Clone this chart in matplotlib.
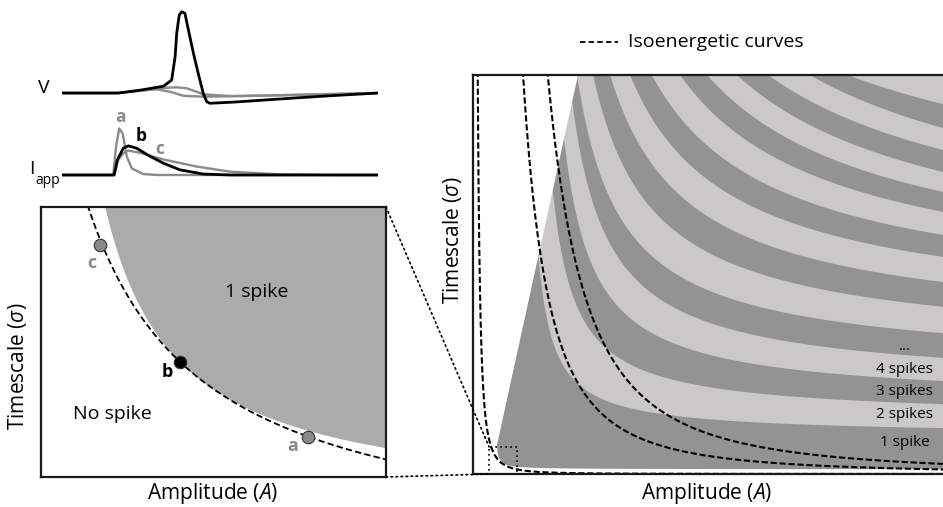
import numpy as np
import matplotlib.pyplot as plt
from matplotlib.patches import ConnectionPatch, Rectangle, Polygon

plt.rcParams['font.family'] = ['Open Sans', 'DejaVu Sans']
plt.rcParams['mathtext.fontset'] = 'custom'
plt.rcParams['mathtext.rm'] = 'Open Sans'
plt.rcParams['mathtext.it'] = 'Open Sans:italic'

# ---------------- example traces (time in a.u.) ----------------
t_v_spike = [0, 17.8, 25, 32.1, 34.7, 35.8, 36.3, 37.1, 37.9, 38.9, 40.0, 41.6,
             43.1, 44.7, 45.8, 46.8, 55, 63.7, 75, 84.8, 100]
v_spike = [-65, -65, -61.5, -57, -49.8, -22.4, 5, 26.4, 30.3, 28.4, 8.9, -18.5,
           -41.9, -65.4, -75.2, -77, -75.5, -73.3, -70.5, -68.2, -65]
t_v_sub1 = [0, 17.8, 26.8, 32, 36.3, 39.5, 42.6, 44.7, 53.2, 74.3, 100]
v_sub1 = [-65, -65, -61.5, -59, -58.3, -59.5, -63.5, -66.5, -68.5, -67.3, -65]
t_v_sub2 = [0, 17.8, 26.8, 30, 34.2, 38.4, 44.7, 58.4, 80, 100]
v_sub2 = [-65, -65, -61.5, -60.7, -63.5, -68.2, -69.3, -68.5, -66.5, -65]

t_i_a = [0, 16.2, 17.1, 18.1, 19.2, 20.5, 22.1, 25.7, 30, 100]
i_a = [0, 0, 0.6, 0.99, 0.88, 0.39, 0.14, 0.02, 0, 0]
t_i_b = [0, 16.5, 17.5, 19.4, 21, 23.6, 27.8, 32.1, 37.3, 44.7, 53.2, 100]
i_b = [0, 0, 0.32, 0.57, 0.62, 0.57, 0.40, 0.25, 0.11, 0.02, 0, 0]
t_i_c = [0, 16.5, 17.8, 19.4, 21, 24.7, 32.1, 42.6, 53.2, 69, 84.8, 100]
i_c = [0, 0, 0.32, 0.46, 0.52, 0.47, 0.33, 0.18, 0.07, 0.015, 0, 0]

# ---------------- zoomed panel (normalised units) ----------------
thr_x0, thr_y0, thr_k = -0.02, -0.119, 0.2305     # 1-spike threshold hyperbola
iso_x0, iso_y0, iso_k = -0.2, -0.3, 0.438         # isoenergetic curve through b
pt_names = ['a', 'b', 'c']
pt_x = [0.774, 0.403, 0.172]
pt_y = [0.147, 0.426, 0.860]
pt_colors = ['#8a8a8a', '#000000', '#8a8a8a']

# ---------------- full panel (normalised units) ----------------
curve_A0 = 0.036
# band boundaries: height where each meets the right edge, amplitude where it meets the top
edge_S = [0.115, 0.175, 0.233, 0.291, 0.353, 0.419, 0.481, 0.544, 0.599,
          0.657, 0.707, 0.757, 0.812, 0.867, 0.927]
top_A = [0.121, 0.152, 0.180, 0.203, 0.220, 0.254, 0.290, 0.332, 0.378,
         0.438, 0.495, 0.558, 0.624, 0.712, 0.793]
curve_p = np.linspace(0.7, 0.45, len(edge_S))      # roundness of each boundary
thr_pts = [(0.994, 0.012), (0.0507, 0.0677)]       # 1-spike threshold
diag_pts = [(0.0507, 0.0727), (0.222, 1.0)]         # left limit of spiking region
iso_E = [1.0e-4, 0.0112, 0.025]                     # sigma = E / A^2
zoom_box = (0.034, 0.0, 0.059, 0.068)
spike_labels = ['...', '4 spikes', '3 spikes', '2 spikes', '1 spike']
spike_label_S = [0.320, 0.263, 0.208, 0.150, 0.078]

dark = '#939393'
light = '#cbc8c8'


def fx(x):
    return x / 943


def fy(y):
    return 1 - y / 507


fig = plt.figure(figsize=(9.43, 5.07), dpi=100)

# traces
axV = fig.add_axes([fx(62), fy(110), 316 / 943, 105 / 507])
axV.plot(t_v_sub1, v_sub1, color='#8a8a8a', lw=1.7)
axV.plot(t_v_sub2, v_sub2, color='#8a8a8a', lw=1.7)
axV.plot(t_v_spike, v_spike, color='black', lw=2.0)
axV.set_xlim(0, 100)
axV.set_ylim(-84.9, 38.2)
axV.axis('off')

axI = fig.add_axes([fx(62), fy(185), 316 / 943, 65 / 507])
axI.plot(t_i_a, i_a, color='#8a8a8a', lw=1.7)
axI.plot(t_i_c, i_c, color='#8a8a8a', lw=1.7)
axI.plot(t_i_b, i_b, color='black', lw=2.0)
axI.set_xlim(0, 100)
axI.set_ylim(-0.213, 1.17)
axI.axis('off')

fig.text(fx(44), fy(88), 'V', fontsize=14, ha='center', va='center')
fig.text(fx(32), fy(169), 'I', fontsize=14, ha='center', va='center')
fig.text(fx(48), fy(181), 'app', fontsize=10, ha='center', va='center')
fig.text(fx(121), fy(117), 'a', fontsize=12.5, fontweight='bold', color='#8a8a8a', ha='center', va='center')
fig.text(fx(141), fy(136), 'b', fontsize=12.5, fontweight='bold', color='black', ha='center', va='center')
fig.text(fx(160), fy(149), 'c', fontsize=12.5, fontweight='bold', color='#8a8a8a', ha='center', va='center')

# zoomed panel
axL = fig.add_axes([fx(41), fy(477), 345 / 943, 270 / 507])
xs = np.linspace(0, 1, 600)
thr = thr_k / (xs - thr_x0) + thr_y0
iso = iso_k / (xs - iso_x0) + iso_y0
axL.fill_between(xs, thr, 3, color='#ababab', lw=0)
axL.plot(xs, iso, color='black', lw=1.3, ls=(0, (3.5, 1.8)))
for n, x, y, c in zip(pt_names, pt_x, pt_y, pt_colors):
    axL.plot(x, y, 'o', ms=9, mfc=c, mec='#333333', mew=0.8, zorder=5)
axL.set_xlim(0, 1)
axL.set_ylim(0, 1)
axL.set_xticks([])
axL.set_yticks([])
for s in axL.spines.values():
    s.set_linewidth(1.6)
    s.set_color('#1a1a1a')
fig.text(fx(257), fy(292), '1 spike', fontsize=14, ha='center', va='center')
fig.text(fx(112), fy(414), 'No spike', fontsize=14, ha='center', va='center')
fig.text(fx(92), fy(263), 'c', fontsize=13, fontweight='bold', color='#8a8a8a', ha='center', va='center')
fig.text(fx(167), fy(372), 'b', fontsize=13, fontweight='bold', color='black', ha='center', va='center')
fig.text(fx(293), fy(446), 'a', fontsize=13, fontweight='bold', color='#8a8a8a', ha='center', va='center')
fig.text(fx(213), fy(493), 'Amplitude ($A$)', fontsize=15, ha='center', va='center')
fig.text(fx(18), fy(366), r'Timescale ($\sigma$)', fontsize=15, ha='center', va='center', rotation=90)

# full panel
axR = fig.add_axes([fx(473), fy(474), 473 / 943, 399 / 507])
A = np.linspace(0, 1.05, 5000)


def boundary(p1, p2, p):
    (x1, y1), (x2, y2) = p1, p2
    M = np.array([[(x1 - curve_A0) ** -p, y1 ** -p],
                  [(x2 - curve_A0) ** -p, y2 ** -p]])
    ca, cb = np.linalg.solve(M, [1.0, 1.0])
    X = np.maximum(A - curve_A0, 1e-9)
    r = 1 - ca / X ** p
    S = np.where(r > 0, (cb / np.maximum(r, 1e-12)) ** (1 / p), 5.0)
    return np.minimum(S, 5.0)


bounds = [boundary(*thr_pts, 0.7)]
for s, a, p in zip(edge_S, top_A, curve_p):
    bounds.append(boundary((0.994, s), (a, 1.0), p))
for i, S in enumerate(bounds):
    axR.fill_between(A, S, 5, color=dark if i % 2 == 0 else light, lw=0)

(da1, ds1), (da2, ds2) = diag_pts
slope = (da2 - da1) / (ds2 - ds1)
mask = [(-0.1, -0.1), (da1 + slope * (-0.1 - ds1), -0.1),
        (da1 + slope * (1.1 - ds1), 1.1), (-0.1, 1.1)]
axR.add_patch(Polygon(mask, closed=True, color='white', lw=0, zorder=2))

Ai = np.linspace(0.003, 1.05, 3000)
for E in iso_E:
    axR.plot(Ai, E / Ai ** 2, color='black', lw=1.5, ls=(0, (3, 1.3)), zorder=3)

zx, zy, zw, zh = zoom_box
axR.add_patch(Rectangle((zx, zy), zw, zh, fill=False, ls=(0, (1, 2)), lw=1.2,
                        color='black', zorder=4))
for lab, s in zip(spike_labels, spike_label_S):
    axR.text(0.912, s, lab, fontsize=11, ha='center', va='center', zorder=5)
axR.set_xlim(0, 1)
axR.set_ylim(0, 1)
axR.set_xticks([])
axR.set_yticks([])
for s in axR.spines.values():
    s.set_linewidth(1.6)
    s.set_color('#1a1a1a')
    s.set_zorder(6)
fig.text(fx(707), fy(493), 'Amplitude ($A$)', fontsize=15, ha='center', va='center')
fig.text(fx(452), fy(240), r'Timescale ($\sigma$)', fontsize=15, ha='center', va='center', rotation=90)

for ya, yb in [(1, zy + zh), (0, zy)]:
    con = ConnectionPatch(xyA=(1, ya), coordsA=axL.transAxes, xyB=(zx, yb),
                          coordsB=axR.transData, ls=(0, (1, 2)), lw=1.2, color='black')
    fig.add_artist(con)

# legend
fig.add_artist(plt.Line2D([fx(580), fx(618)], [fy(42), fy(42)], color='black',
                          lw=1.3, ls=(0, (3, 1.8))))
fig.text(fx(628), fy(42), 'Isoenergetic curves', fontsize=14, ha='left', va='center')

fig.savefig('out.png', dpi=100)
